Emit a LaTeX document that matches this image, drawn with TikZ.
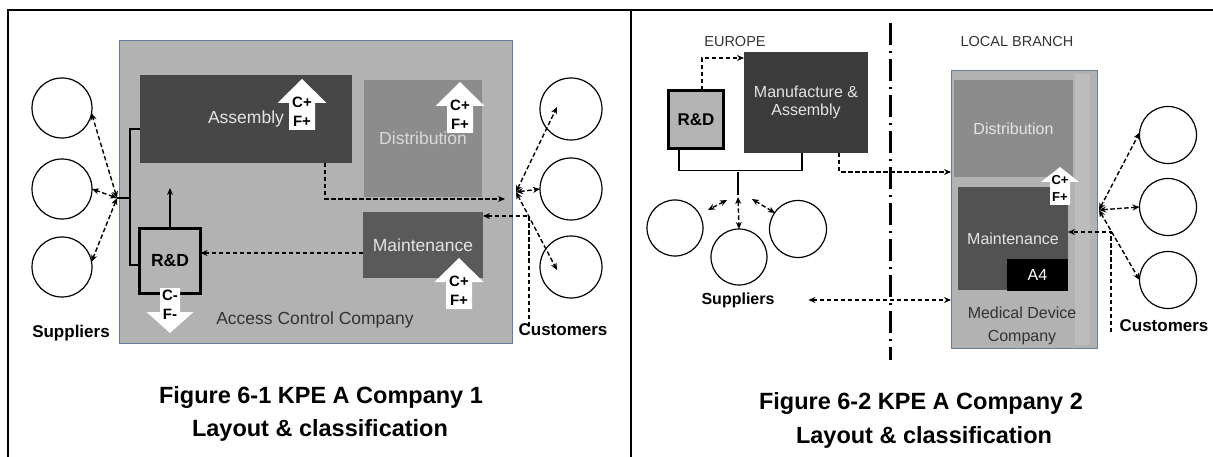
\documentclass[tikz,border=0pt]{standalone}
\usepackage{fontspec}
\setmainfont{Liberation Sans}
\usetikzlibrary{arrows.meta,calc}
\definecolor{cComp}{HTML}{B2B2B2}
\definecolor{cCompB}{HTML}{6E7C9C}
\definecolor{cAsm}{HTML}{474747}
\definecolor{cDist}{HTML}{8C8C8C}
\definecolor{cMaint}{HTML}{5A5A5A}
\definecolor{cRD}{HTML}{B4B4B4}
\definecolor{cMA}{HTML}{3C3C3C}
\definecolor{cMaintB}{HTML}{525252}
\definecolor{cTxtL}{HTML}{E4E4E4}
\definecolor{cTxtD}{HTML}{333333}
\definecolor{cStrip}{HTML}{BCBCBC}
\tikzset{
  every node/.style={inner sep=0pt, outer sep=0pt},
  comp/.style={draw=cCompB, line width=1pt, fill=cComp},
  blk/.style={draw=none, text=cTxtL, font=\fontsize{17.5}{21}\selectfont, align=center},
  rdbox/.style={draw=black, line width=3pt, fill=cRD, font=\bfseries\fontsize{17.5}{21}\selectfont},
  ring/.style={circle, draw=black, line width=1.2pt, fill=white, minimum size=#1},
  lab/.style={text=cTxtD, font=\fontsize{17.5}{21}\selectfont, align=center},
  blab/.style={text=black, font=\bfseries\fontsize{17}{20}\selectfont},
  captxt/.style={text=black, font=\bfseries\fontsize{23.5}{28}\selectfont},
  cftxt/.style={text=black, font=\bfseries\fontsize{15}{17}\selectfont},
  cfsmalltxt/.style={text=black, font=\bfseries\fontsize{13}{15}\selectfont},
  flow/.style={line width=1.4pt, dash pattern=on 4.5pt off 2.5pt},
  solidline/.style={line width=1.4pt},
  cfup/.pic={
    \fill[white] (0,0) -- (24.5,24) -- (13,24) -- (13,51) -- (-13,51) -- (-13,24) -- (-24.5,24) -- cycle;
    \node[cftxt] (-c) at (0,23) {C+};
    \node[cftxt] (-f) at (0,42) {F+};
  },
  cfsmall/.pic={
    \fill[white] (0,0) -- (19,15) -- (10,15) -- (10,38) -- (-10,38) -- (-10,15) -- (-19,15) -- cycle;
    \node[cfsmalltxt] (-c) at (0,13) {C+};
    \node[cfsmalltxt] (-f) at (0,30) {F+};
  },
  cfdown/.pic={
    \fill[white] (-10,0) -- (10,0) -- (10,24) -- (23.5,24) -- (0,45) -- (-23.5,24) -- (-10,24) -- cycle;
    \node[cftxt] (-c) at (0,7) {C-};
    \node[cftxt] (-f) at (0,26) {F-};
  }
}
\begin{document}
\begin{tikzpicture}[x=1pt,y=-1pt,>={Stealth[length=7pt,width=6pt]}]
\useasboundingbox[fill=white] (0,0) rectangle (1213,457);
% frame
\coordinate (fBL) at (8,457);
\coordinate (fTL) at (8,10);
\coordinate (fTR) at (1213,10);
\coordinate (fMT) at (631,10);
\coordinate (fMB) at (631,457);
\draw[line width=2pt] (fBL) -- (fTL) -- (fTR);
\draw[line width=2pt] (fMT) -- (fMB);

% ================= LEFT PANEL =================
\node[comp, minimum width=393pt, minimum height=302pt] (comp1) at (315.5,192) {};
\node[blk, fill=cAsm, minimum width=212pt, minimum height=88pt] (asm) at (246,119) {Assembly};
\node[blk, fill=cDist, text=cTxtL!90!gray, minimum width=118pt, minimum height=117pt, text depth=-6pt] (dist1) at (423,138.5) {Distribution};
\node[blk, fill=cMaint, minimum width=120pt, minimum height=66pt] (maint1) at (423,245) {Maintenance};
\node[rdbox, minimum width=61pt, minimum height=65pt] (rd1) at (170,261) {R\&D};
\node[lab] (acc) at (315,320) {Access Control Company};

\pic (arA) at (302,79) {cfup};
\pic (arD) at (460,82) {cfup};
\pic (arM) at (459,258) {cfup};
\pic (arR) at (170,288) {cfdown};

\node[ring=60pt] (sc1) at (62,108) {};
\node[ring=60pt] (sc2) at (62,189) {};
\node[ring=60pt] (sc3) at (62,267) {};
\node[ring=62pt] (cc1) at (571,109) {};
\node[ring=62pt] (cc2) at (571,189) {};
\node[ring=62pt] (cc3) at (571,267) {};
\node[blab] (sup1) at (71,333) {Suppliers};
\node[blab] (cust1) at (563,330) {Customers};

% suppliers side
\coordinate (jL) at (117,198);
\coordinate (jLv) at (130,198);
\draw[solidline] ([yshift=-10pt]asm.west) -- ++(-10,0) |- ([yshift=-4pt]rd1.west);
\draw[solidline] (jLv) -- (jL);
\draw[flow,<->] (jL) -- (sc1.-10);
\draw[flow,<->] (jL) -- (sc2.east);
\draw[flow,<->] (jL) -- (sc3.10);
% R&D up
\coordinate (rdup) at (170,188);
\draw[solidline,->] (rd1.north) -- (rdup);
% maintenance to R&D
\coordinate (mrd) at ($(maint1.west)+(0,8)$);
\draw[flow,->] (mrd) -- (mrd -| rd1.east);
% assembly to customers
\coordinate (asmOut) at ($(asm.south east)+(-27,0)$);
\coordinate (jRin) at (505,199);
\draw[flow,->] (asmOut) |- (jRin);
\coordinate (jR) at (516,192);
\draw[flow,<->] (jR) -- ($(cc1)+(-14,-2)$);
\draw[flow,<->] (jR) -- (cc2.west);
\draw[flow,<->] (jR) -- ($(cc3)+(-14,3)$);
% customers to maintenance
\coordinate (cL) at (529,326);
\coordinate (mIn) at ($(maint1.east)+(0,-29)$);
\draw[flow,->] (cL) |- (mIn);

\node[captxt] (cap1a) at (321,397) {Figure 6-1 KPE A Company 1};
\node[captxt] (cap1b) at (320,430) {Layout \& classification};

% ================= RIGHT PANEL =================
\node[lab, font=\fontsize{14.5}{17}\selectfont] (eu) at (735,42) {EUROPE};
\node[lab, font=\fontsize{14.5}{17}\selectfont] (lb) at (1017,42) {LOCAL BRANCH};
\node[rdbox, minimum width=55pt, minimum height=58pt, font=\bfseries\fontsize{17}{20}\selectfont] (rd2) at (696,119.5) {R\&D};
\node[blk, fill=cMA, minimum width=124pt, minimum height=101pt, font=\fontsize{16}{18.5}\selectfont] (ma) at (806,102.5) {Manufacture \&\\Assembly};
\coordinate (dd1) at (890,23);
\coordinate (dd2) at (890,360);
\draw[line width=3pt, dash pattern=on 22pt off 6pt on 2pt off 6pt] (dd1) -- (dd2);

\node[comp, minimum width=146pt, minimum height=277pt] (comp2) at (1024,209.5) {};
\fill[cStrip] (1075,74) rectangle (1090,345);
\node[blk, fill=cDist, minimum width=119pt, minimum height=97pt, font=\fontsize{16}{19}\selectfont] (dist2) at (1013.5,128.5) {Distribution};
\node[blk, fill=cMaintB, minimum width=110pt, minimum height=103pt, font=\fontsize{16}{19}\selectfont] (maint2) at (1013,238.5) {Maintenance};
\node[blk, fill=black, text=white, minimum width=61pt, minimum height=32pt, font=\fontsize{16}{19}\selectfont] (a4) at (1037.5,275) {A4};
\pic (arB) at (1060,167) {cfsmall};
\node[lab, font=\fontsize{16}{23}\selectfont] (med) at (1022,326) {Medical Device\\Company};

\node[ring=56pt] (sp1) at (675,228) {};
\node[ring=56pt] (sp2) at (739,257) {};
\node[ring=57pt] (sp3) at (798,229) {};
\node[ring=57pt] (cr1) at (1168,135) {};
\node[ring=57pt] (cr2) at (1168,207) {};
\node[ring=57pt] (cr3) at (1168,280) {};
\node[blab, font=\bfseries\fontsize{16}{19}\selectfont] (sup2) at (738,300) {Suppliers};
\node[blab] (cust2) at (1164,326) {Customers};

% R&D -> M&A
\draw[flow,->] ([xshift=6pt]rd2.north) |- ([yshift=44.5pt]ma.west);
% bracket
\draw[solidline] ([xshift=-17pt]rd2.south) -- ++(0,22) -| ([xshift=-4pt]ma.south);
\coordinate (brC) at (738,172);
\coordinate (jS) at (738,195);
\draw[solidline] (brC) -- (jS);
\draw[flow,<->] ($(jS)+(-11,5)$) -- ($(sp1)+(33,-18)$);
\draw[flow,<->] ($(jS)+(0,2)$) -- (sp2.north);
\draw[flow,<->] ($(jS)+(14,4)$) -- ($(sp3)+(-23,-16)$);
% M&A -> company
\draw[flow,->] ([xshift=33pt]ma.south) |- ([yshift=37.5pt]comp2.west);
% suppliers <-> company
\coordinate (supR) at ($(sup2.east)+(34,0)$);
\draw[flow,<->] (supR) -- (supR -| comp2.west);
% customers
\coordinate (jR2) at (1099,210);
\draw[flow,<->] (jR2) -- (cr1.175);
\draw[flow,<->] (jR2) -- (cr2.west);
\draw[flow,<->] (jR2) -- (cr3.180);
\coordinate (cL2) at (1111,332);
\draw[flow,->] (cL2) |- ([yshift=6.5pt]maint2.east);

\node[captxt] (cap2a) at (921,403) {Figure 6-2 KPE A Company 2};
\node[captxt] (cap2b) at (924,437) {Layout \& classification};
\end{tikzpicture}
\end{document}
